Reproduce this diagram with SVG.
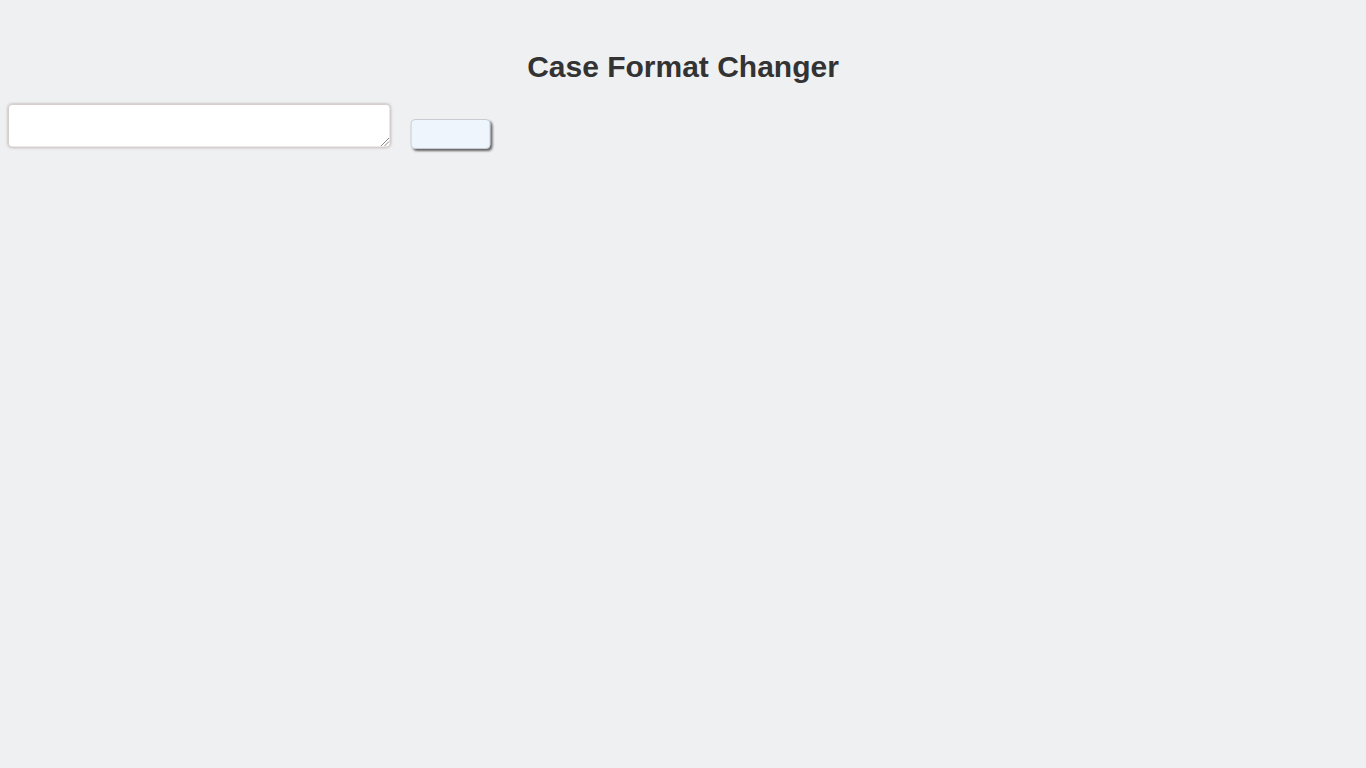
<svg xmlns="http://www.w3.org/2000/svg" width="1366" height="768" viewBox="0 0 1366 768">
  <defs>
    <filter id="taShadow" x="-10%" y="-50%" width="120%" height="200%">
      <feGaussianBlur in="SourceAlpha" stdDeviation="1.5"/>
      <feOffset dx="0" dy="1"/>
      <feComponentTransfer><feFuncA type="linear" slope="0.45"/></feComponentTransfer>
      <feFlood flood-color="#7a5a50"/>
      <feComposite operator="in" in2="SourceGraphic"/>
    </filter>
    <filter id="soft" x="-20%" y="-60%" width="140%" height="220%">
      <feGaussianBlur in="SourceAlpha" stdDeviation="1.5" result="b"/>
      <feOffset in="b" dx="0" dy="0" result="o"/>
      <feFlood flood-color="#8a6e66" flood-opacity="0.6"/>
      <feComposite in2="o" operator="in" result="s"/>
      <feMerge><feMergeNode in="s"/><feMergeNode in="SourceGraphic"/></feMerge>
    </filter>
    <filter id="btnShadow" x="-20%" y="-50%" width="150%" height="220%">
      <feGaussianBlur in="SourceAlpha" stdDeviation="1.3" result="b"/>
      <feOffset in="b" dx="2" dy="2" result="o"/>
      <feFlood flood-color="#333" flood-opacity="0.75"/>
      <feComposite in2="o" operator="in" result="s"/>
      <feMerge><feMergeNode in="s"/><feMergeNode in="SourceGraphic"/></feMerge>
    </filter>
  </defs>
  <style>
    .title { font-family: "Liberation Sans", Arial, sans-serif; font-weight: bold; font-size: 30px; fill: #333333; }
  </style>
  <rect x="0" y="0" width="1366" height="768" fill="#eff0f2"/>
  <g id="title">
    <text class="title" x="683" y="77" text-anchor="middle">Case Format Changer</text>
  </g>
  <g id="textarea">
    <rect x="8.5" y="104.5" width="381.5" height="42.5" rx="3.5" fill="#ffffff" stroke="#d6cfcd" stroke-width="1" filter="url(#soft)"/>
    <g stroke="#666" stroke-width="0.8">
      <line x1="381" y1="146" x2="389" y2="138"/>
      <line x1="384.5" y1="146" x2="389" y2="141.5"/>
    </g>
  </g>
  <g id="button">
    <rect x="411" y="119.5" width="79" height="29" rx="4" fill="#eef5fd" stroke="#c8ccd2" stroke-width="1" filter="url(#btnShadow)"/>
  </g>
</svg>
